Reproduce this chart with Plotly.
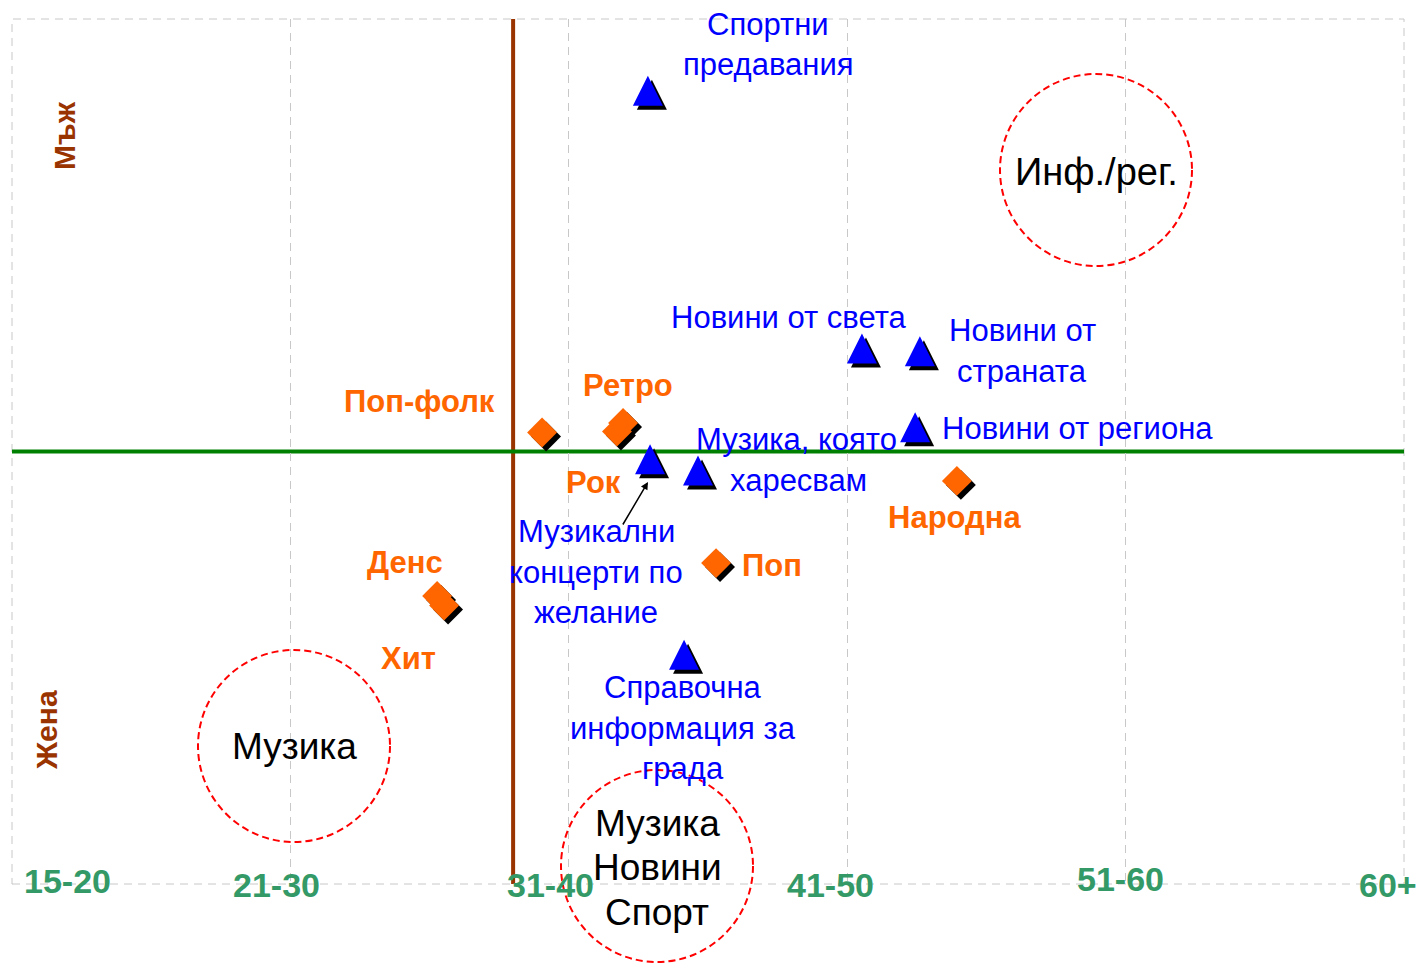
import plotly.graph_objects as go

# ---------------- data ----------------
# x axis: age scale, gridlines at group boundaries 0..5 ; y axis: gender scale 0 (Жена) .. 1 (Мъж)
age_labels = ["15-20", "21-30", "31-40", "41-50", "51-60", "60+"]
age_grid = [0, 1, 2, 3, 4, 5]

prog_names = ["Спортни предавания", "Новини от света", "Новини от страната",
              "Новини от региона", "Музикални концерти по желание",
              "Музика, която харесвам", "Справочна информация за града"]
prog_x = [2.284, 3.053, 3.261, 3.244, 2.292, 2.464, 2.414]
prog_y = [0.917, 0.619, 0.616, 0.528, 0.491, 0.478, 0.265]

genre_names = ["Поп-фолк", "Ретро", "Рок", "Денс", "Хит", "Поп", "Народна"]
genre_x = [1.904, 2.195, 2.173, 1.527, 1.552, 2.529, 3.394]
genre_y = [0.522, 0.533, 0.523, 0.333, 0.322, 0.371, 0.466]

avg_age = 1.80      # vertical brown divider
avg_gender = 0.5    # horizontal green divider

# ---------------- layout geometry ----------------
W, H = 1420, 963
ML, MR, MT, MB = 12, 16, 19, 79
PW, PH = W - ML - MR, H - MT - MB
XR = [0, 5]
YR = [0, 1]


def px_x(p):  # pixel -> paper
    return (p - ML) / PW


def px_y(p):
    return (H - MB - p) / PH


# pixel-based style offsets converted to data units
dx = 4 / PW * (XR[1] - XR[0])
dy = -4 / PH * (YR[1] - YR[0])
TRI = 30                                   # triangle marker size (px)
tri_up = (TRI / 2) / PH * (YR[1] - YR[0])  # apex of "arrow-up" sits half a size above centre

FONT = "Arial, Liberation Sans, sans-serif"
BLUE = "#0000ff"
ORANGE = "#ff6600"
BROWN = "#993300"
GREEN_T = "#339966"

fig = go.Figure()

# shadows + triangles
fig.add_trace(go.Scatter(x=[v + dx for v in prog_x], y=[v + dy + tri_up for v in prog_y], mode="markers",
                         marker=dict(symbol="arrow-up", size=TRI, color="black", line=dict(width=0)),
                         hoverinfo="skip", showlegend=False))
fig.add_trace(go.Scatter(x=prog_x, y=[v + tri_up for v in prog_y], mode="markers", text=prog_names,
                         marker=dict(symbol="arrow-up", size=TRI, color=BLUE, line=dict(width=0)),
                         hoverinfo="text", showlegend=False))
# shadows + diamonds
fig.add_trace(go.Scatter(x=[v + dx for v in genre_x], y=[v + dy for v in genre_y], mode="markers",
                         marker=dict(symbol="diamond", size=23, color="black"),
                         hoverinfo="skip", showlegend=False))
fig.add_trace(go.Scatter(x=genre_x, y=genre_y, mode="markers", text=genre_names,
                         marker=dict(symbol="diamond", size=23, color=ORANGE),
                         hoverinfo="text", showlegend=False))

shapes = []
# dashed outer border of plot area
shapes.append(dict(type="rect", xref="paper", yref="paper", x0=0, x1=1, y0=0, y1=1,
                   line=dict(color="#c8c8c8", width=1, dash="8px,6px"), layer="below"))
# divider lines
shapes.append(dict(type="line", xref="x", yref="y", x0=avg_age, x1=avg_age, y0=YR[0], y1=YR[1],
                   line=dict(color=BROWN, width=4), layer="below"))
shapes.append(dict(type="line", xref="x", yref="y", x0=XR[0], x1=XR[1], y0=avg_gender, y1=avg_gender,
                   line=dict(color="#008000", width=4), layer="below"))

# dashed red circles (pixel centre, radius)
circles = [(1096, 170, 96), (294, 746, 96), (657, 866, 96)]
for cx, cy, r in circles:
    shapes.append(dict(type="circle", xref="paper", yref="paper",
                       x0=px_x(cx - r), x1=px_x(cx + r), y0=px_y(cy + r), y1=px_y(cy - r),
                       line=dict(color="#ff0000", width=2, dash="7px,4px"), layer="above"))

ann = []


def add_text(txt, x, y, color, size, bold=False, angle=0):
    if bold:
        txt = "<b>" + txt + "</b>"
    ann.append(dict(text=txt, x=px_x(x), y=px_y(y), xref="paper", yref="paper",
                    showarrow=False, xanchor="center", yanchor="middle", textangle=angle,
                    font=dict(family=FONT, size=size, color=color)))


# blue labels (programmes), one entry per line
blue_labels = [("Спортни", 768, 24), ("предавания", 768, 65),
               ("Новини от света", 789, 317),
               ("Новини от", 1022, 330), ("страната", 1022, 371),
               ("Новини от региона", 1077, 428),
               ("Музика, която", 797, 439), ("харесвам", 798, 480),
               ("Музикални", 596, 531), ("концерти по", 596, 572), ("желание", 596, 612),
               ("Справочна", 683, 687), ("информация за", 683, 728), ("града", 683, 768)]
for t, x, y in blue_labels:
    add_text(t, x, y, BLUE, 31)

# orange labels (genres)
orange_labels = [("Поп-фолк", 420, 401), ("Ретро", 628, 386), ("Рок", 593, 482), ("Денс", 405, 562),
                 ("Хит", 408, 658), ("Поп", 772, 565), ("Народна", 954, 517)]
for t, x, y in orange_labels:
    add_text(t, x, y, ORANGE, 31, bold=True)

# circle texts
add_text("Инф./рег.", 1096, 172, "black", 38)
add_text("Музика", 294, 746, "black", 37)
for t, y in [("Музика", 823), ("Новини", 867), ("Спорт", 912)]:
    add_text(t, 657, y, "black", 37)

# gender labels
add_text("Мъж", 64, 136, BROWN, 30, bold=True, angle=-90)
add_text("Жена", 46, 730, BROWN, 30, bold=True, angle=-90)

# age labels
age_pos = [(67, 881), (276, 885), (550, 885), (830, 885), (1120, 879), (1388, 885)]
for t, (x, y) in zip(age_labels, age_pos):
    add_text(t, x, y, GREEN_T, 34, bold=True)

# arrow pointing to "Музикални концерти по желание"
ann.append(dict(x=px_x(648), y=px_y(482), xref="paper", yref="paper", ax=-26, ay=44,
                text="", showarrow=True, arrowhead=2, arrowsize=1, arrowwidth=1.5,
                arrowcolor="black"))

fig.update_layout(
    width=W, height=H,
    margin=dict(l=ML, r=MR, t=MT, b=MB, pad=0),
    paper_bgcolor="white", plot_bgcolor="white",
    shapes=shapes, annotations=ann, showlegend=False,
    xaxis=dict(range=XR, tickvals=age_grid, showticklabels=False, showgrid=True,
               gridcolor="#c8c8c8", gridwidth=1, griddash="8px,6px", zeroline=False,
               showline=False, fixedrange=True),
    yaxis=dict(range=YR, tickvals=[0, 1], showticklabels=False, showgrid=True,
               gridcolor="#c8c8c8", gridwidth=1, griddash="8px,6px", zeroline=False,
               showline=False, fixedrange=True),
)

fig.write_html("out.html", config={"displayModeBar": False},
               post_script="document.body.style.margin='0';document.body.style.overflow='hidden';")
